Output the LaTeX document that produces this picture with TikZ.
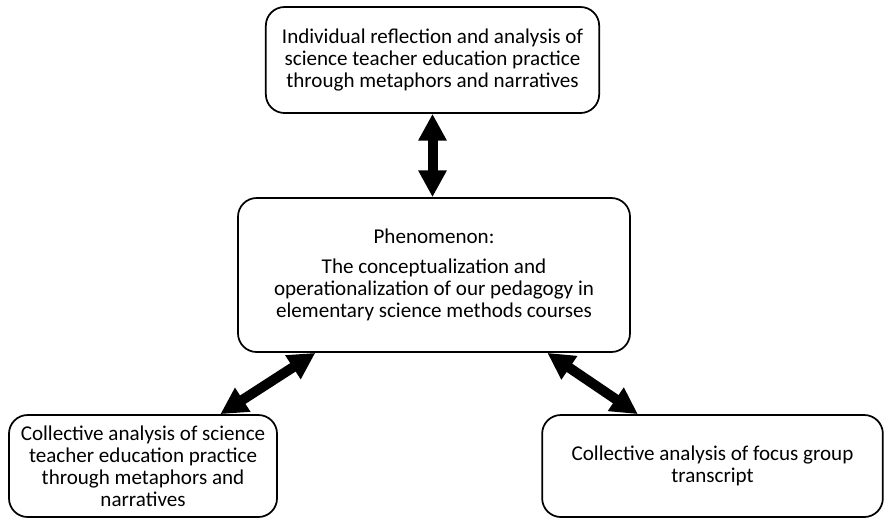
\documentclass[tikz,border=0pt]{standalone}
\usepackage{fontspec}
\setmainfont{Carlito}
\usetikzlibrary{arrows.meta,positioning}
\tikzset{
    stagebox/.style={draw, line width=1.3pt, rounded corners=14pt, align=center,
        inner sep=0pt, font=\fontsize{15.8pt}{16.5pt}\selectfont},
    bothway/.style={line width=7.5pt, {Triangle[length=20pt,width=20pt]}-{Triangle[length=20pt,width=20pt]}}
}
\begin{document}
\begin{tikzpicture}[x=0.75pt,y=-0.75pt]
    \useasboundingbox (0,0) rectangle (884,519);
    \node[stagebox, minimum width=250pt, minimum height=79.5pt] (indiv) at (432.5,60)
        {Individual reflection and analysis of\\science teacher education practice\\through metaphors and narratives};
    \node[stagebox, minimum width=294pt, minimum height=115.5pt] (phen) at (434,275)
        {Phenomenon:\\[6pt]The conceptualization and\\operationalization of our pedagogy in\\elementary science methods courses};
    \node[stagebox, minimum width=201pt, minimum height=76.5pt] (collect) at (143,466)
        {Collective analysis of science\\teacher education practice\\through metaphors and\\narratives};
    \node[stagebox, minimum width=255.5pt, minimum height=76.5pt] (focus) at (712.5,466)
        {Collective analysis of focus group\\transcript};
    % two-way links
    \draw[bothway] (indiv.south) -- (indiv.south |- phen.north);
    \draw[bothway] ([xshift=-89pt]phen.south) -- ([xshift=58pt]collect.north);
    \draw[bothway] ([xshift=85pt]phen.south) -- ([xshift=-56pt]focus.north);
\end{tikzpicture}
\end{document}
